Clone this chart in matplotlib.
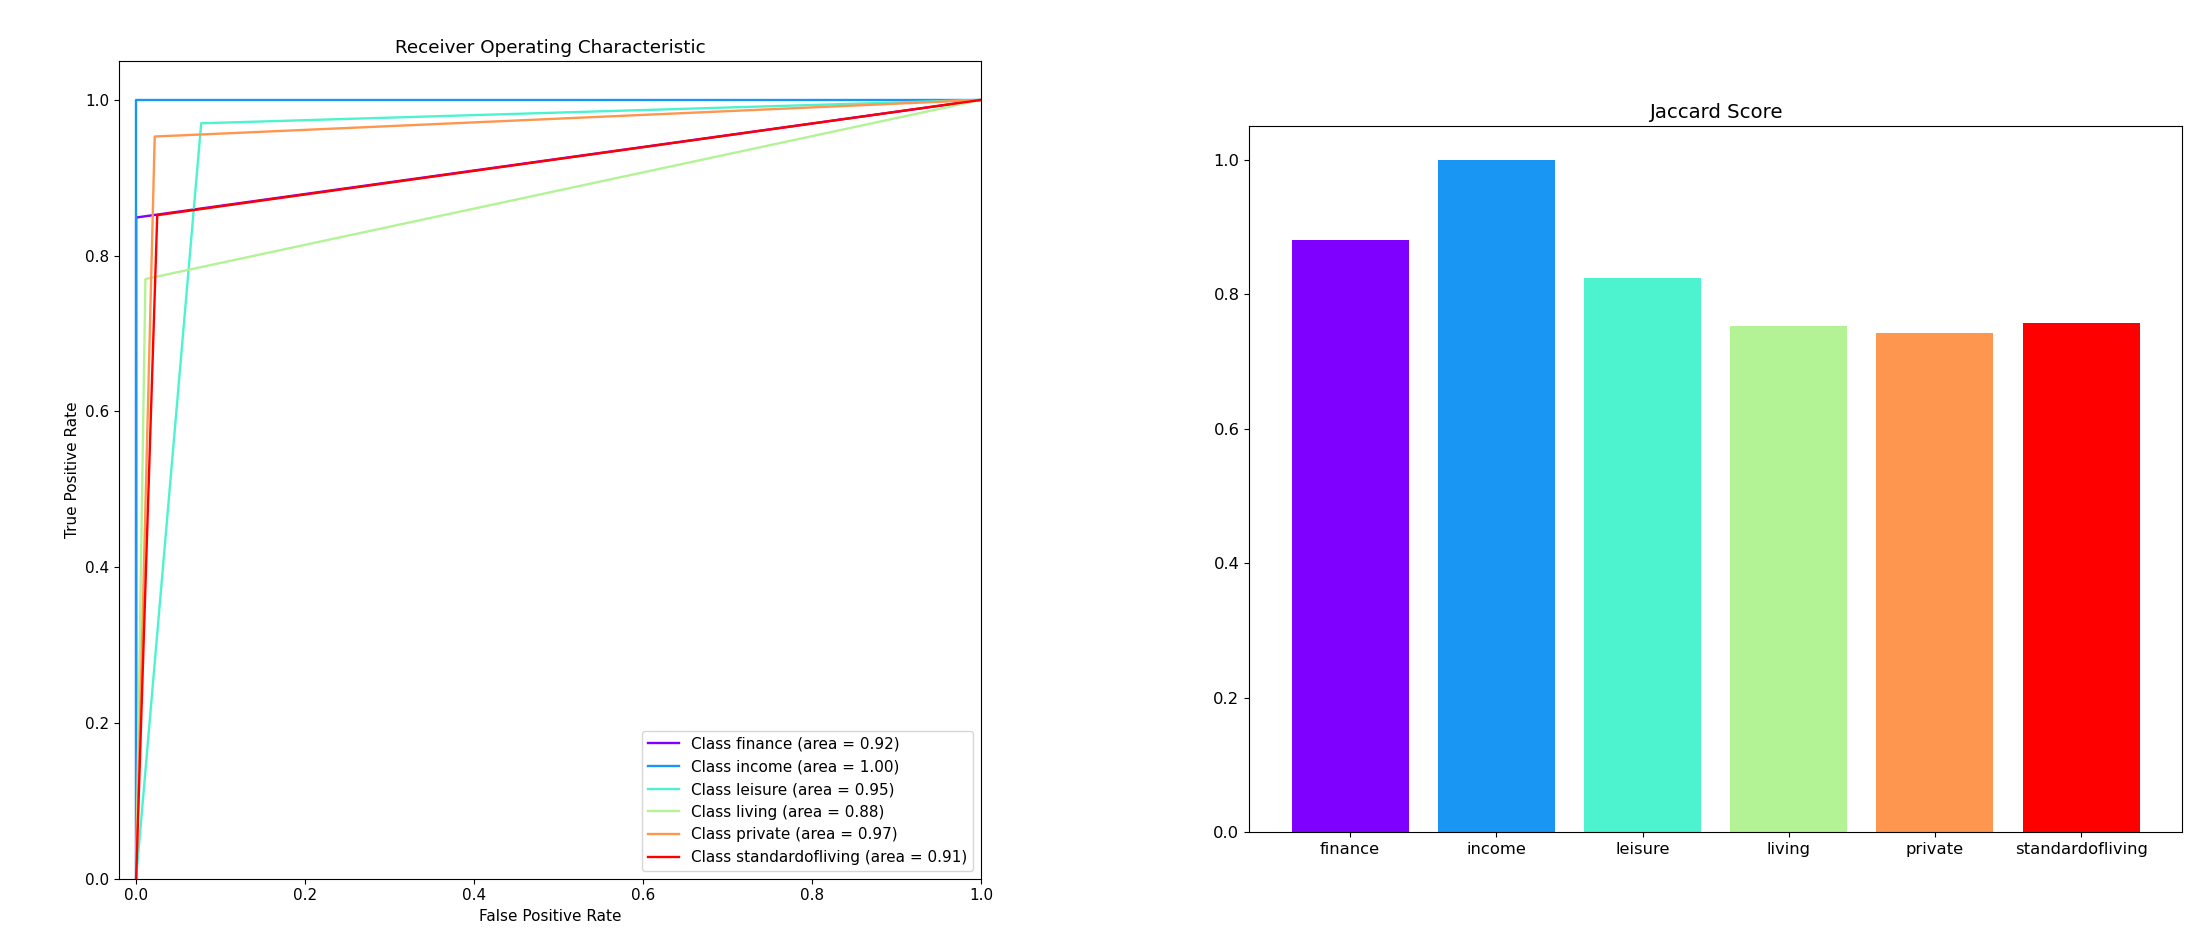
import numpy as np
import matplotlib
matplotlib.use("Agg")
import matplotlib.pyplot as plt

# class names and per-class results
classes = ['finance', 'income', 'leisure', 'living', 'private', 'standardofliving']
fpr_mid = [0.0, 0.0, 0.077, 0.011, 0.022, 0.025]
tpr_mid = [0.849, 1.0, 0.970, 0.770, 0.953, 0.852]
roc_auc = [0.92, 1.00, 0.95, 0.88, 0.97, 0.91]
jaccard = [0.880, 1.0, 0.824, 0.752, 0.743, 0.757]

colors = plt.cm.rainbow(np.linspace(0, 1, len(classes)))

fig = plt.figure(figsize=(22.12, 9.44), dpi=100)

# ROC curves
ax1 = fig.add_axes([0.0539, 0.0691, 0.3896, 0.8663])
for i, name in enumerate(classes):
    fpr = [0.0, fpr_mid[i], 1.0]
    tpr = [0.0, tpr_mid[i], 1.0]
    ax1.plot(fpr, tpr, color=colors[i], lw=1.7,
             label='Class %s (area = %0.2f)' % (name, roc_auc[i]))
ax1.set_xlim([-0.02, 1.0])
ax1.set_ylim([0.0, 1.05])
ax1.set_xlabel('False Positive Rate', fontsize=11)
ax1.set_ylabel('True Positive Rate', fontsize=11)
ax1.set_title('Receiver Operating Characteristic', fontsize=13.2)
ax1.tick_params(labelsize=11)
ax1.legend(loc='lower right', fontsize=11)

# Jaccard score per class
ax2 = fig.add_axes([0.5647, 0.1183, 0.4218, 0.7482])
ax2.bar(classes, jaccard, color=colors)
ax2.set_title('Jaccard Score', fontsize=14.2)
ax2.tick_params(labelsize=11.8)

fig.savefig('out.png', dpi=100)
